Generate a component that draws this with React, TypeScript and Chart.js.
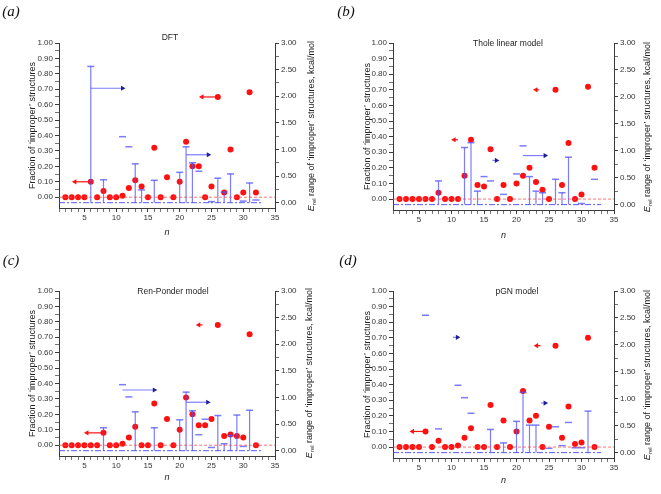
import React, { useEffect, useRef } from 'react';
import { Chart, registerables } from 'chart.js';
Chart.register(...registerables);

// ---------- data ----------
const nValues = [2, 3, 4, 5, 6, 7, 8, 9, 10, 11, 12, 13, 14, 15, 16, 17, 18, 19, 20, 21, 22, 23, 24, 25, 26, 27, 28, 29, 30, 31, 32];

const fracDFT = [0, 0, 0, 0, 0.10, 0, 0.04, 0, 0, 0.01, 0.06, 0.11, 0.07, 0, 0.32, 0, 0.13, 0, 0.10, 0.36, 0.20, 0.20, 0, 0.07, 0.65, 0.03, 0.31, 0, 0.03, 0.68, 0.03];
const fracThole = [0, 0, 0, 0, 0, 0, 0.04, 0, 0, 0, 0.15, 0.38, 0.09, 0.08, 0.32, 0, 0.09, 0, 0.10, 0.15, 0.20, 0.11, 0.06, 0, 0.70, 0.09, 0.36, 0, 0.03, 0.72, 0.20];
const fracRenPonder = [0, 0, 0, 0, 0, 0, 0.08, 0, 0, 0.01, 0.05, 0.12, 0, 0, 0.27, 0, 0.17, 0, 0.10, 0.31, 0.20, 0.13, 0.13, 0.17, 0.78, 0.06, 0.07, 0.06, 0.05, 0.72, 0];
const fracPGN = [0, 0, 0, 0, 0.10, 0, 0.04, 0, 0, 0.01, 0.06, 0.12, 0, 0, 0.27, 0, 0.17, 0, 0.10, 0.36, 0.17, 0.20, 0, 0.13, 0.65, 0.06, 0.26, 0.02, 0.03, 0.70, 0];

// E_rel ranges drawn as a vertical line with a cap
const rangeNDFT = [6, 8, 13, 14, 16, 20, 21, 22, 26, 27, 28, 31];
const rangeTopDFT = [2.56, 0.43, 0.73, 0.24, 0.42, 0.57, 1.05, 0.75, 0.46, 0.20, 0.54, 0.37];
const capNDFT = [11, 12, 23, 25, 30, 32];
const capTopDFT = [1.24, 1.05, 0.59, 0.02, 0.03, 0.05];

const rangeNThole = [8, 12, 13, 14, 22, 23, 24, 26, 27, 28];
const rangeTopThole = [0.44, 1.06, 1.15, 0.25, 0.52, 0.25, 0.22, 0.47, 0.22, 0.88];
const capNThole = [15, 16, 18, 20, 21, 30, 32];
const capTopThole = [0.52, 0.44, 0.19, 0.57, 1.09, 0.02, 0.47];

const rangeNRenPonder = [8, 13, 16, 20, 21, 22, 26, 27, 28, 29, 31];
const rangeTopRenPonder = [0.43, 0.73, 0.43, 0.58, 1.10, 0.75, 0.66, 0.13, 0.29, 0.67, 0.76];
const capNRenPonder = [11, 12, 23, 24, 25, 30];
const capTopRenPonder = [1.24, 1.01, 0.30, 0.59, 0.06, 0.08];

const rangeNPGN = [16, 18, 20, 21, 22, 23, 31];
const rangeTopPGN = [0.43, 0.18, 0.58, 1.12, 0.51, 0.51, 0.77];
const capNPGN = [6, 8, 11, 12, 13, 25, 26, 27, 28, 29, 30];
const capTopPGN = [2.55, 0.44, 1.25, 1.02, 0.73, 0.08, 0.48, 0.13, 0.56, 0.09, 0.09];

// arrows: [value, from n, to n, axis]
type Arrow = [number, number, number, 'frac' | 'range'];
const arrowsDFT: Arrow[] = [[0.10, 6, 3.5, 'frac'], [0.65, 26, 23.5, 'frac'], [2.15, 6, 11, 'range'], [0.90, 21, 24.5, 'range']];
const arrowsThole: Arrow[] = [[0.38, 11, 10.4, 'frac'], [0.70, 23.5, 23.0, 'frac'], [0.91, 21, 24.4, 'range'], [0.82, 16.3, 16.9, 'range']];
const arrowsRenPonder: Arrow[] = [[0.08, 8, 5.4, 'frac'], [0.78, 23.6, 23.0, 'frac'], [1.14, 11, 16, 'range'], [0.91, 21, 24.4, 'range']];
const arrowsPGN: Arrow[] = [[0.10, 6, 4, 'frac'], [0.65, 23.7, 23.1, 'frac'], [2.14, 10.2, 10.9, 'range'], [0.92, 23.8, 24.4, 'range']];

// axis ticks
const fracTicks = [0, 0.05, 0.1, 0.15, 0.2, 0.25, 0.3, 0.35, 0.4, 0.45, 0.5, 0.55, 0.6, 0.65, 0.7, 0.75, 0.8, 0.85, 0.9, 0.95, 1.0];
const fracMajor = [0, 0.1, 0.2, 0.3, 0.4, 0.5, 0.6, 0.7, 0.8, 0.9, 1.0];
const rangeTicks = [0, 0.25, 0.5, 0.75, 1, 1.25, 1.5, 1.75, 2, 2.25, 2.5, 2.75, 3];
const rangeMajor = [0, 0.5, 1, 1.5, 2, 2.5, 3];
const nTicks = [1, 2, 3, 4, 5, 6, 7, 8, 9, 10, 11, 12, 13, 14, 15, 16, 17, 18, 19, 20, 21, 22, 23, 24, 25, 26, 27, 28, 29, 30, 31, 32, 33, 34, 35];
const nMajor = [5, 10, 15, 20, 25, 30, 35];

// ---------- styling ----------
const RED = '#ff1010';
const BLUE = 'rgba(80,80,255,0.75)';
const NAVY = '#1e1e96';
const AXIS = '#3a3a3a';
const SANS = '"Liberation Sans", Arial, sans-serif';

const isIn = (list: number[], v: number) => list.some((m) => Math.abs(m - v) < 1e-6);

type Box = { l: number; r: number; t: number; b: number };
type PanelProps = {
  left: number; top: number; W: number; H: number; area: Box;
  yTitleX: number; nTitleY: number;
  frac: number[]; rangeN: number[]; rangeTop: number[]; capN: number[]; capTop: number[]; arrows: Arrow[];
};

function Panel(p: PanelProps) {
  const ref = useRef<HTMLCanvasElement | null>(null);
  useEffect(() => {
    if (!ref.current) return;
    const segs: any[] = [];
    p.rangeN.forEach((n, i) => {
      segs.push({ x: n, y: 0 }, { x: n, y: p.rangeTop[i] }, { x: n, y: null });
    });
    const caps = [
      ...p.rangeN.map((n, i) => ({ x: n, y: p.rangeTop[i] })),
      ...p.capN.map((n, i) => ({ x: n, y: p.capTop[i] })),
    ];
    const arrowSets = p.arrows.map(([v, from, to, ax]) => ({
      type: 'line' as const,
      data: [{ x: from, y: v }, { x: to, y: v }],
      yAxisID: ax === 'frac' ? 'y' : 'y2',
      borderColor: ax === 'frac' ? RED : BLUE,
      borderWidth: 1.2,
      pointRadius: [0, 3],
      pointStyle: 'triangle',
      pointRotation: to > from ? 90 : -90,
      pointBackgroundColor: ax === 'frac' ? RED : NAVY,
      pointBorderColor: ax === 'frac' ? RED : NAVY,
      pointBorderWidth: 0,
    }));
    const tickFont = { family: SANS, size: 8 };
    const chart = new Chart(ref.current, {
      type: 'scatter',
      data: {
        datasets: [
          {
            type: 'line', data: [{ x: 1, y: 0 }, { x: 35, y: 0 }], yAxisID: 'y',
            borderColor: 'rgba(255,70,70,0.75)', borderDash: [3, 2], borderWidth: 1, pointRadius: 0,
          },
          {
            type: 'line', data: [{ x: 1, y: 0 }, { x: 33, y: 0 }], yAxisID: 'y2',
            borderColor: 'rgba(60,60,255,0.85)', borderDash: [6, 2, 2, 2], borderWidth: 1, pointRadius: 0,
          },
          {
            type: 'line', data: segs, yAxisID: 'y2', borderColor: BLUE, borderWidth: 1.2,
            pointRadius: 0, spanGaps: false,
          },
          {
            type: 'scatter', data: caps, yAxisID: 'y2', pointStyle: 'line', pointRadius: 3.5,
            pointBorderColor: BLUE, borderColor: BLUE, pointBorderWidth: 1.5, borderWidth: 1.5,
          },
          ...arrowSets,
          {
            type: 'scatter', data: nValues.map((n, i) => ({ x: n, y: p.frac[i] })), yAxisID: 'y',
            pointRadius: 3, pointBackgroundColor: RED, backgroundColor: RED, pointBorderWidth: 0, borderWidth: 0,
          },
        ] as any,
      },
      options: {
        animation: false,
        responsive: false,
        maintainAspectRatio: false,
        layout: { padding: { left: 0, right: 0, top: p.area.t, bottom: 0 } },
        plugins: { legend: { display: false }, tooltip: { enabled: false }, title: { display: false } },
        scales: {
          x: {
            type: 'linear', position: 'bottom', min: 1, max: 35, offset: false,
            afterBuildTicks: (s: any) => { s.ticks = nTicks.map((v) => ({ value: v })); },
            afterFit: (s: any) => { s.height = p.H - p.area.b; },
            grid: {
              drawOnChartArea: false, drawTicks: true, tickLength: 4,
              tickColor: AXIS, tickWidth: (c: any) => (isIn(nMajor, c.tick?.value) ? 1 : 0.7),
            },
            border: { display: true, color: AXIS, width: 1 },
            ticks: {
              autoSkip: false, maxRotation: 0, padding: 1, color: '#333', font: tickFont,
              callback: (v: any) => (isIn(nMajor, Number(v)) ? String(v) : ''),
            },
            title: {
              display: true, text: 'n', color: '#222',
              font: { family: SANS, size: 9, style: 'italic' },
              padding: { top: 0, bottom: p.H - p.nTitleY - 5.4 },
            },
          },
          y: {
            type: 'linear', position: 'left', min: -0.07, max: 1,
            afterBuildTicks: (s: any) => { s.ticks = fracTicks.map((v) => ({ value: v })); },
            afterFit: (s: any) => { s.width = p.area.l; },
            grid: {
              drawOnChartArea: false, drawTicks: true, tickLength: 4,
              tickColor: AXIS, tickWidth: (c: any) => (isIn(fracMajor, c.tick?.value) ? 1 : 0.7),
            },
            border: { display: true, color: AXIS, width: 1 },
            ticks: {
              autoSkip: false, padding: 2, color: '#333', font: tickFont,
              callback: (v: any) => (isIn(fracMajor, Number(v)) ? Number(v).toFixed(2) : ''),
            },
            title: {
              display: true, text: 'Fraction of ‘improper’ structures', color: '#222',
              font: { family: SANS, size: 9 },
              padding: { top: p.yTitleX - 5.4, bottom: 0 },
            },
          },
          y2: {
            type: 'linear', position: 'right', min: -0.1, max: 3,
            afterBuildTicks: (s: any) => { s.ticks = rangeTicks.map((v) => ({ value: v })); },
            afterFit: (s: any) => { s.width = p.W - p.area.r; },
            grid: {
              drawOnChartArea: false, drawTicks: true, tickLength: 4,
              tickColor: AXIS, tickWidth: (c: any) => (isIn(rangeMajor, c.tick?.value) ? 1 : 0.7),
            },
            border: { display: true, color: AXIS, width: 1 },
            ticks: {
              autoSkip: false, padding: 2, color: '#333', font: tickFont,
              callback: (v: any) => (isIn(rangeMajor, Number(v)) ? Number(v).toFixed(2) : ''),
            },
          },
        },
      } as any,
    });
    return () => chart.destroy();
  }, []);
  return (
    <canvas
      ref={ref}
      width={p.W}
      height={p.H}
      style={{ position: 'absolute', left: p.left, top: p.top, width: p.W, height: p.H, display: 'block' }}
    />
  );
}

const labelStyle = (x: number, y: number): React.CSSProperties => ({
  position: 'absolute', left: x, top: y, transform: 'translate(-50%,-50%)',
  fontFamily: '"Liberation Serif", "Times New Roman", serif', fontStyle: 'italic', fontSize: 15, color: '#111',
  whiteSpace: 'nowrap', lineHeight: 1,
});
const titleStyle = (x: number, y: number): React.CSSProperties => ({
  position: 'absolute', left: x, top: y, transform: 'translate(-50%,-50%)',
  fontFamily: SANS, fontSize: 8.5, color: '#222', whiteSpace: 'nowrap', lineHeight: 1,
});
const rightTitleStyle = (x: number, y: number): React.CSSProperties => ({
  position: 'absolute', left: x, top: y, transform: 'translate(-50%,-50%) rotate(-90deg)',
  fontFamily: SANS, fontSize: 9, color: '#222', whiteSpace: 'nowrap', lineHeight: 1,
});

function RightTitle({ x, y }: { x: number; y: number }) {
  return (
    <div style={rightTitleStyle(x, y)}>
      <i>E</i>
      <sub style={{ fontSize: 6, verticalAlign: 'sub' }}>rel</sub> range of ‘improper’ structures, kcal/mol
    </div>
  );
}

export default function App() {
  return (
    <div style={{ position: 'absolute', left: 0, top: 0, width: 661, height: 494, background: '#fff', overflow: 'hidden' }}>
      <Panel left={0} top={0} W={330} H={247} area={{ l: 59, r: 275, t: 43, b: 208 }} yTitleX={33} nTitleY={232}
        frac={fracDFT} rangeN={rangeNDFT} rangeTop={rangeTopDFT} capN={capNDFT} capTop={capTopDFT} arrows={arrowsDFT} />
      <Panel left={330} top={0} W={331} H={247} area={{ l: 63, r: 284, t: 43, b: 210 }} yTitleX={38} nTitleY={235}
        frac={fracThole} rangeN={rangeNThole} rangeTop={rangeTopThole} capN={capNThole} capTop={capTopThole} arrows={arrowsThole} />
      <Panel left={0} top={247} W={330} H={247} area={{ l: 59, r: 275, t: 44, b: 209 }} yTitleX={33} nTitleY={230}
        frac={fracRenPonder} rangeN={rangeNRenPonder} rangeTop={rangeTopRenPonder} capN={capNRenPonder} capTop={capTopRenPonder} arrows={arrowsRenPonder} />
      <Panel left={330} top={247} W={331} H={247} area={{ l: 63, r: 284, t: 44, b: 211 }} yTitleX={38} nTitleY={233}
        frac={fracPGN} rangeN={rangeNPGN} rangeTop={rangeTopPGN} capN={capNPGN} capTop={capTopPGN} arrows={arrowsPGN} />

      <div style={labelStyle(11, 11)}>(a)</div>
      <div style={labelStyle(346, 11)}>(b)</div>
      <div style={labelStyle(11, 260)}>(c)</div>
      <div style={labelStyle(348, 260)}>(d)</div>

      <div style={titleStyle(170, 37)}>DFT</div>
      <div style={titleStyle(508, 43)}>Thole linear model</div>
      <div style={titleStyle(173, 291)}>Ren-Ponder model</div>
      <div style={titleStyle(517, 291)}>pGN model</div>

      <RightTitle x={312} y={126} />
      <RightTitle x={648} y={127} />
      <RightTitle x={310} y={373} />
      <RightTitle x={648} y={375} />
    </div>
  );
}
